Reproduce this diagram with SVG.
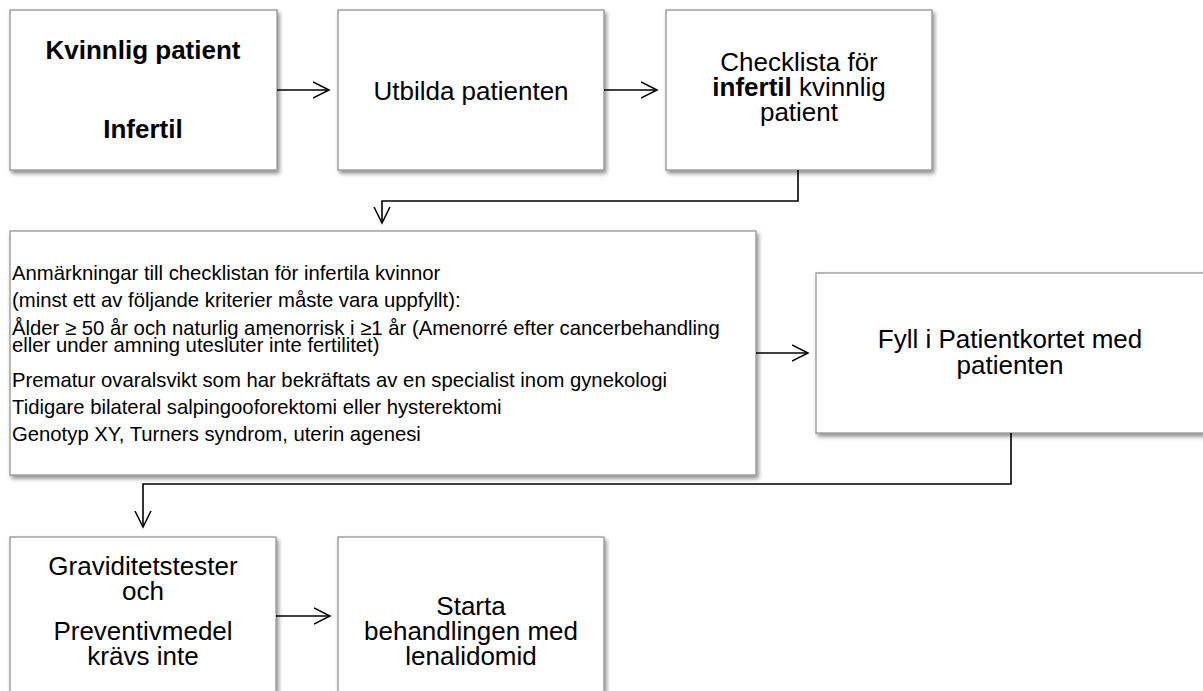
<svg xmlns="http://www.w3.org/2000/svg" width="1203" height="691" viewBox="0 0 1203 691">
<defs>
<filter id="sh" x="-5%" y="-5%" width="115%" height="120%">
<feDropShadow dx="2" dy="3" stdDeviation="2" flood-color="#000" flood-opacity="0.45"/>
</filter>
<marker id="ah" viewBox="0 0 20 20" refX="16" refY="10" markerWidth="20" markerHeight="20" markerUnits="userSpaceOnUse" orient="auto">
<path d="M0,2 L16,10 L0,18" fill="none" stroke="#000" stroke-width="1.5"/>
</marker>
<style>
.box{fill:#fff;stroke:#8c8c8c;stroke-width:1.2;filter:url(#sh)}
.t{font-family:"Liberation Sans",Arial,sans-serif;font-size:26px;fill:#000;text-anchor:middle}
.b{font-weight:bold}
.s{font-family:"Liberation Sans",Arial,sans-serif;font-size:20.3px;fill:#000}
.c{fill:none;stroke:#000;stroke-width:1.6}
</style>
</defs>
<rect width="1203" height="691" fill="#fff"/>
<g id="n1">
<rect class="box" x="10" y="10" width="267" height="160"/>
<text class="t b" x="143" y="59">Kvinnlig patient</text>
<text class="t b" x="143" y="138">Infertil</text>
</g>
<g id="n2">
<rect class="box" x="338" y="10" width="266" height="160"/>
<text class="t" x="471" y="100">Utbilda patienten</text>
</g>
<g id="n3">
<rect class="box" x="666" y="10" width="266" height="160"/>
<text class="t" x="799" y="71">Checklista för</text>
<text class="t" x="799" y="96"><tspan class="b">infertil</tspan> kvinnlig</text>
<text class="t" x="799" y="121">patient</text>
</g>
<g id="n4">
<rect class="box" x="10" y="231" width="746" height="244"/>
<text class="s" x="12" y="280">Anmärkningar till checklistan för infertila kvinnor</text>
<text class="s" x="12" y="307">(minst ett av följande kriterier måste vara uppfyllt):</text>
<text class="s" x="12" y="335">Ålder ≥ 50 år och naturlig amenorrisk i ≥1 år (Amenorré efter cancerbehandling</text>
<text class="s" x="12" y="352">eller under amning utesluter inte fertilitet)</text>
<text class="s" x="12" y="387">Prematur ovaralsvikt som har bekräftats av en specialist inom gynekologi</text>
<text class="s" x="12" y="414">Tidigare bilateral salpingooforektomi eller hysterektomi</text>
<text class="s" x="12" y="441">Genotyp XY, Turners syndrom, uterin agenesi</text>
</g>
<g id="n5">
<rect class="box" x="816" y="273" width="400" height="160"/>
<text class="t" x="1010" y="348">Fyll i Patientkortet med</text>
<text class="t" x="1010" y="374">patienten</text>
</g>
<g id="n6">
<rect class="box" x="10" y="537" width="266" height="170"/>
<text class="t" x="143" y="575">Graviditetstester</text>
<text class="t" x="143" y="600">och</text>
<text class="t" x="143" y="640">Preventivmedel</text>
<text class="t" x="143" y="665">krävs inte</text>
</g>
<g id="n7">
<rect class="box" x="338" y="537" width="266" height="170"/>
<text class="t" x="471" y="615">Starta</text>
<text class="t" x="471" y="640">behandlingen med</text>
<text class="t" x="471" y="665">lenalidomid</text>
</g>
<g id="connectors">
<path class="c" d="M277,90 H329" marker-end="url(#ah)"/>
<path class="c" d="M604,90 H657" marker-end="url(#ah)"/>
<path class="c" d="M798,170 V201 H382 V223" marker-end="url(#ah)"/>
<path class="c" d="M756,353 H808" marker-end="url(#ah)"/>
<path class="c" d="M1011,433 V484 H143 V527" marker-end="url(#ah)"/>
<path class="c" d="M276,616 H330" marker-end="url(#ah)"/>
</g>
</svg>
